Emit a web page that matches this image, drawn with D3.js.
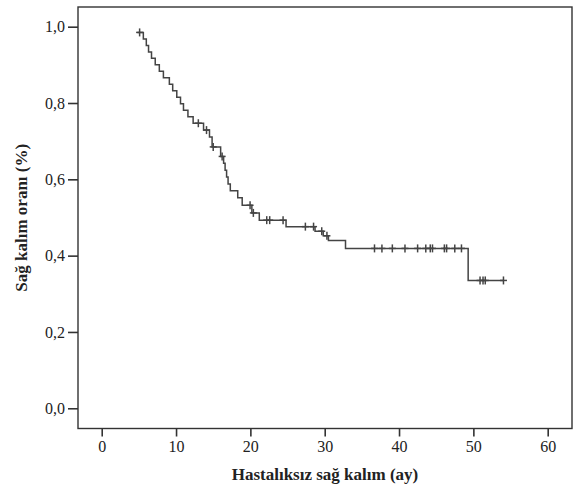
<!DOCTYPE html>
<html><head><meta charset="utf-8">
<script src="https://cdn.jsdelivr.net/npm/d3@7"></script>
<style>
body{margin:0;background:#fff;}
text{font-family:"Liberation Serif","Times New Roman",serif;}
</style></head>
<body><svg id="c" width="576" height="484"></svg>
<script>
// Kaplan-Meier step data: time (months) at which survival changes, and survival after the change
const eventTimes = [4.8, 5.6, 6.0, 6.3, 6.7, 7.2, 7.75, 8.3, 9.1, 9.55, 10.1, 10.6, 11.0, 11.6, 12.3, 13.7, 14.5, 14.85, 16.0, 16.4, 16.6, 16.8, 17.0, 17.3, 18.3, 18.9, 20.2, 21.2, 24.8, 28.7, 29.8, 30.5, 32.8, 49.3];
const survival   = [0.985, 0.968, 0.951, 0.934, 0.917, 0.900, 0.883, 0.866, 0.849, 0.832, 0.815, 0.798, 0.781, 0.764, 0.747, 0.729, 0.711, 0.685, 0.660, 0.642, 0.624, 0.606, 0.588, 0.570, 0.552, 0.532, 0.512, 0.493, 0.476, 0.464, 0.452, 0.440, 0.419, 0.335];
// censored observations (months)
const censorTimes = [5.1, 13.0, 14.1, 15.0, 16.2, 19.96, 20.4, 22.2, 22.6, 24.4, 27.4, 28.5, 29.6, 30.3, 36.7, 37.7, 39.1, 40.8, 42.5, 43.6, 44.2, 44.5, 46.1, 46.4, 47.5, 48.4, 50.9, 51.3, 51.6, 54.05];
const xTicks = [0, 10, 20, 30, 40, 50, 60];
const yTicks = [0.0, 0.2, 0.4, 0.6, 0.8, 1.0];
const xTitle = "Hastalıksız sağ kalım (ay)";
const yTitle = "Sağ kalım oranı (%)";

const svg = d3.select("#c");
const L = 78, R = 572, T = 7, B = 428.5;
const x = d3.scaleLinear().domain([-3.19, 63.27]).range([L, R]);
const y = d3.scaleLinear().domain([-0.053, 1.0516]).range([B, T]);
const stroke = "#333";

// frame
svg.append("rect").attr("x", L).attr("y", T).attr("width", R - L).attr("height", B - T)
  .attr("fill", "none").attr("stroke", stroke).attr("stroke-width", 1.4);

const fmt = d => d.toFixed(1).replace(".", ",");
const gy = svg.append("g").attr("transform", `translate(${L},0)`)
  .call(d3.axisLeft(y).tickValues(yTicks).tickFormat(fmt).tickSize(10).tickPadding(3));
const gx = svg.append("g").attr("transform", `translate(0,${B})`)
  .call(d3.axisBottom(x).tickValues(xTicks).tickFormat(d3.format("d")).tickSize(8).tickPadding(4));
[gx, gy].forEach(g => {
  g.select(".domain").remove();
  g.selectAll(".tick line").attr("stroke", stroke).attr("stroke-width", 1.6);
  g.selectAll(".tick text").attr("fill", "#222").style("font-size", "16px")
    .style("font-family", '"Liberation Serif","Times New Roman",serif');
});

// survival step curve
const lastT = d3.max(censorTimes);
const pts = eventTimes.map((t, i) => [t, survival[i]]);
pts.push([lastT, survival[survival.length - 1]]);
const line = d3.line().x(d => x(d[0])).y(d => y(d[1])).curve(d3.curveStepAfter);
svg.append("path").attr("d", line(pts)).attr("fill", "none")
  .attr("stroke", "#444").attr("stroke-width", 1.5);

// censor marks
const survAt = t => { let s = survival[0]; eventTimes.forEach((e, i) => { if (e <= t) s = survival[i]; }); return s; };
const cg = svg.append("g").attr("stroke", "#444").attr("stroke-width", 1.5);
censorTimes.forEach(t => {
  const cx = x(t), cy = y(survAt(t));
  cg.append("line").attr("x1", cx).attr("x2", cx).attr("y1", cy - 4).attr("y2", cy + 4);
  cg.append("line").attr("x1", cx - 3.5).attr("x2", cx + 3.5).attr("y1", cy).attr("y2", cy);
});

// titles
svg.append("text").attr("x", (L + R) / 2).attr("y", 480).attr("text-anchor", "middle")
  .style("font-size", "17px").style("font-weight", "bold").attr("fill", "#222").text(xTitle);
svg.append("text").attr("transform", `translate(27,${(T + B) / 2}) rotate(-90)`).attr("text-anchor", "middle")
  .style("font-size", "17px").style("font-weight", "bold").attr("fill", "#222").text(yTitle);
</script></body></html>
